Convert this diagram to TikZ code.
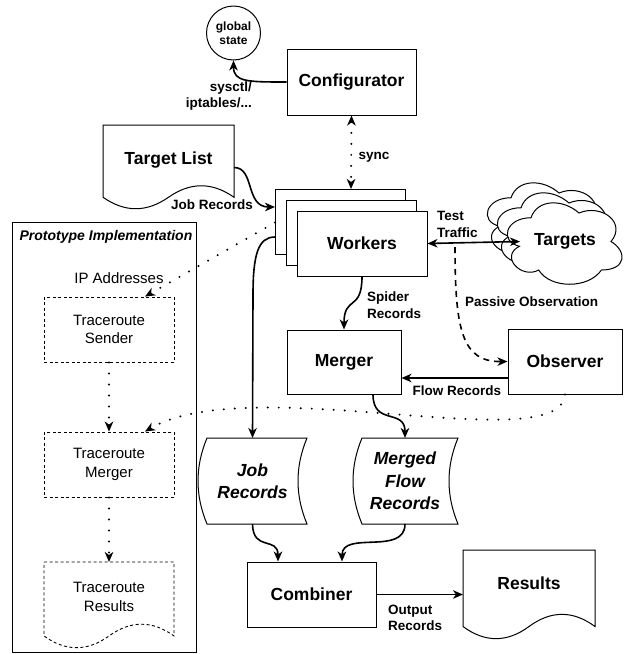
\documentclass[tikz,border=0pt]{standalone}
\usepackage{fontspec}
\setmainfont{Liberation Sans}
\usetikzlibrary{arrows.meta,calc}
% document shape: [style]{x0}{y0}{w}{h}
\newcommand\mydoc[5][]{%
 \draw[#1] (#2,#3) -- ({#2+#4},#3) -- ({#2+#4},{#3+0.85*#5})
  .. controls ({#2+5*#4/6},{#3+0.67*#5}) and ({#2+2*#4/3},{#3+0.67*#5}) .. ({#2+#4/2},{#3+0.85*#5})
  .. controls ({#2+#4/3},{#3+1.03*#5}) and ({#2+#4/6},{#3+1.03*#5}) .. (#2,{#3+0.85*#5}) -- cycle;}
% stored data shape: {x left top}{y0}{x right top}{h}
\newcommand\mystored[4]{%
 \draw[fill=white,line width=1pt] (#1,#2) -- (#3,#2)
  .. controls ({#3-12},{#2+#4/3}) and ({#3-12},{#2+2*#4/3}) .. (#3,{#2+#4})
  -- (#1,{#2+#4})
  .. controls ({#1-12},{#2+2*#4/3}) and ({#1-12},{#2+#4/3}) .. (#1,#2) -- cycle;}
% cloud shape: {x0}{y0}{w}{h}
\newcommand\mycloud[4]{%
 \draw[fill=white,line width=1pt] ({#1+0.25*#3},{#2+0.25*#4})
  .. controls ({#1+0.05*#3},{#2+0.25*#4}) and (#1,{#2+0.5*#4}) .. ({#1+0.16*#3},{#2+0.55*#4})
  .. controls (#1,{#2+0.66*#4}) and ({#1+0.18*#3},{#2+0.9*#4}) .. ({#1+0.31*#3},{#2+0.8*#4})
  .. controls ({#1+0.4*#3},{#2+#4}) and ({#1+0.7*#3},{#2+#4}) .. ({#1+0.8*#3},{#2+0.8*#4})
  .. controls ({#1+#3},{#2+0.8*#4}) and ({#1+#3},{#2+0.6*#4}) .. ({#1+0.875*#3},{#2+0.5*#4})
  .. controls ({#1+#3},{#2+0.3*#4}) and ({#1+0.8*#3},{#2+0.1*#4}) .. ({#1+0.625*#3},{#2+0.2*#4})
  .. controls ({#1+0.5*#3},{#2+0.05*#4}) and ({#1+0.3*#3},{#2+0.05*#4}) .. ({#1+0.25*#3},{#2+0.25*#4}) -- cycle;}
\begin{document}
\begin{tikzpicture}[x=1pt,y=-1pt,
  >={Stealth[length=10pt,width=8.5pt,inset=3pt]},
  box/.style={draw, line width=1pt, fill=white, inner sep=0pt},
  dbox/.style={draw, line width=0.9pt, dash pattern=on 3pt off 2.5pt, inner sep=0pt},
  ghost/.style={inner sep=0pt, outer sep=0pt},
  conn/.style={line width=1.6pt, ->},
  dotc/.style={line width=2.2pt, line cap=round, dash pattern=on 0pt off 11pt, ->},
  big/.style={font=\fontsize{17.5}{22.5}\selectfont\bfseries, align=center},
  bigit/.style={font=\fontsize{17.5}{22.5}\selectfont\bfseries\itshape, align=center},
  lab/.style={font=\fontsize{13.5}{16.5}\selectfont\bfseries, inner sep=0pt, align=left},
  reg/.style={font=\fontsize{15}{18.5}\selectfont, align=center},
]
\useasboundingbox (0,0) rectangle (626,654);
\fill[white] (0,0) rectangle (626,654);

% Prototype implementation frame
\node[draw, line width=1pt, minimum width=184pt, minimum height=430pt, inner sep=0pt] (proto) at (104,437) {};
\node[font=\fontsize{14}{16}\selectfont\bfseries\itshape] (prototitle) at (106,237) {Prototype Implementation};
\node[reg] (ipaddr) at (119,278) {IP Addresses};
\node[dbox, reg, minimum width=130pt, minimum height=65pt] (sender) at (109,329.5) {Traceroute\\Sender};
\node[dbox, reg, minimum width=130pt, minimum height=65pt] (tmerger) at (109,464.5) {Traceroute\\Merger};
\mydoc[line width=0.9pt, dash pattern=on 3pt off 2.5pt]{44}{562}{130}{87}
\node[ghost, minimum width=130pt, minimum height=87pt] (tresults) at (109,605.5) {};
\node[reg] (tresultstxt) at (109,597) {Traceroute\\Results};

% global state and configurator
\node[draw, circle, line width=1pt, minimum size=54pt, inner sep=0pt, align=center,
  font=\fontsize{12}{14}\selectfont\bfseries] (gs) at (233.5,33) {global\\state};
\node[box, big, minimum width=129pt, minimum height=66pt] (config) at (351.5,82) {Configurator};

% target list
\mydoc[line width=1pt, fill=white]{103}{125}{131}{85}
\node[ghost, minimum width=131pt, minimum height=85pt] (tl) at (168.5,167.5) {};
\node[big] (tltxt) at (168.5,160) {Target List};

% workers stack
\node[box, minimum width=130pt, minimum height=65pt] (wback) at (340,221.5) {};
\node[box, minimum width=130pt, minimum height=65pt] (wmid) at (351,232.5) {};
\node[box, big, minimum width=130pt, minimum height=65pt] (wfront) at (362,243.5) {Workers};
\node[ghost, minimum width=152pt, minimum height=87pt] (workers) at (351,232.5) {};

% targets clouds
\mycloud{479}{174}{128}{95}
\mycloud{489}{184}{128}{95}
\mycloud{499}{194}{128}{95}
\node[ghost, minimum width=128pt, minimum height=95pt] (targets) at (563,241.5) {};
\node[big] (targetstxt) at (565,241) {Targets};

% merger, observer
\node[box, big, minimum width=114pt, minimum height=64pt] (merger) at (344,362) {Merger};
\node[box, big, minimum width=114pt, minimum height=65pt] (observer) at (565,361.5) {Observer};

% stored data
\mystored{207}{438}{307}{86}
\node[ghost, bigit, minimum width=109pt, minimum height=86pt] (jr) at (252.5,481) {Job\\Records};
\mystored{362}{438}{458}{86}
\node[ghost, bigit, minimum width=106pt, minimum height=86pt] (mfr) at (405,481) {Merged\\Flow\\Records};

% combiner, results
\node[box, big, minimum width=129pt, minimum height=65pt] (comb) at (311.5,594.5) {Combiner};
\mydoc[line width=1pt, fill=white]{463}{550}{132}{90}
\node[ghost, minimum width=132pt, minimum height=90pt] (results) at (529,595) {};
\node[big] (resultstxt) at (529,583) {Results};

% connectors
\draw[conn] (config.west) .. controls (248,82) and (233.5,82) .. (gs.south);
\node[lab, align=right, anchor=east] (sysctl) at (252,96) {sysctl/\\iptables/...};

\draw[dotc,<->] (config.south) -- (workers.north);
\node[lab] (sync) at (374,157) {sync};

\draw[conn] (tl.east) .. controls (255,167.5) and (245,207) .. ($(workers.west)+(0,-25.5)$);
\node[lab, anchor=east] (jrlab) at (253,205) {Job Records};

\draw[conn,<->] (wfront.east) -- ([xshift=21pt]targets.west);
\node[lab, anchor=west] (testtraffic) at (437,224.5) {Test\\Traffic};

\coordinate (po) at (455,247);
\draw[conn, dash pattern=on 6pt off 5pt] (po) .. controls (455,330) and (462,362) .. (observer.west);
\node[lab, anchor=west] (polab) at (465,302) {Passive Observation};

\draw[conn] (wfront.south) .. controls (362,312) and (344,295) .. (merger.north);
\node[lab, anchor=west] (spider) at (367,305) {Spider\\Records};

\draw[conn] ($(observer.west)+(0,16.5)$) -- ($(merger.east)+(0,16)$);
\node[lab] (flowlab) at (457,391) {Flow Records};

\draw[conn] ($(workers.west)+(0,4.5)$) .. controls (258,237) and (253,255) .. (253,295) -- (jr.north);
\draw[conn] ([xshift=29pt]merger.south) .. controls (373,426) and (405,408) .. (mfr.north);

\draw[conn] (jr.south) .. controls (253,552) and (278,536) .. ([xshift=-33.5pt]comb.north);
\draw[conn] (mfr.south) .. controls (405,556) and (342,530) .. ([xshift=30.5pt]comb.north);

\draw[conn] (comb.east) -- (comb.east -| results.west);
\node[lab, anchor=west] (outlab) at (388,618) {Output\\Records};

% dotted prototype connectors
\draw[dotc] ($(workers.west)+(0,-10)$) -- ([xshift=36pt]sender.north);
\draw[dotc] (sender.south) -- (tmerger.north);
\draw[dotc] (tmerger.south) -- (tresults.north);
\draw[dotc] (observer.south) .. controls (560,460) and (250,370) .. ([xshift=36pt]tmerger.north);
\end{tikzpicture}
\end{document}
